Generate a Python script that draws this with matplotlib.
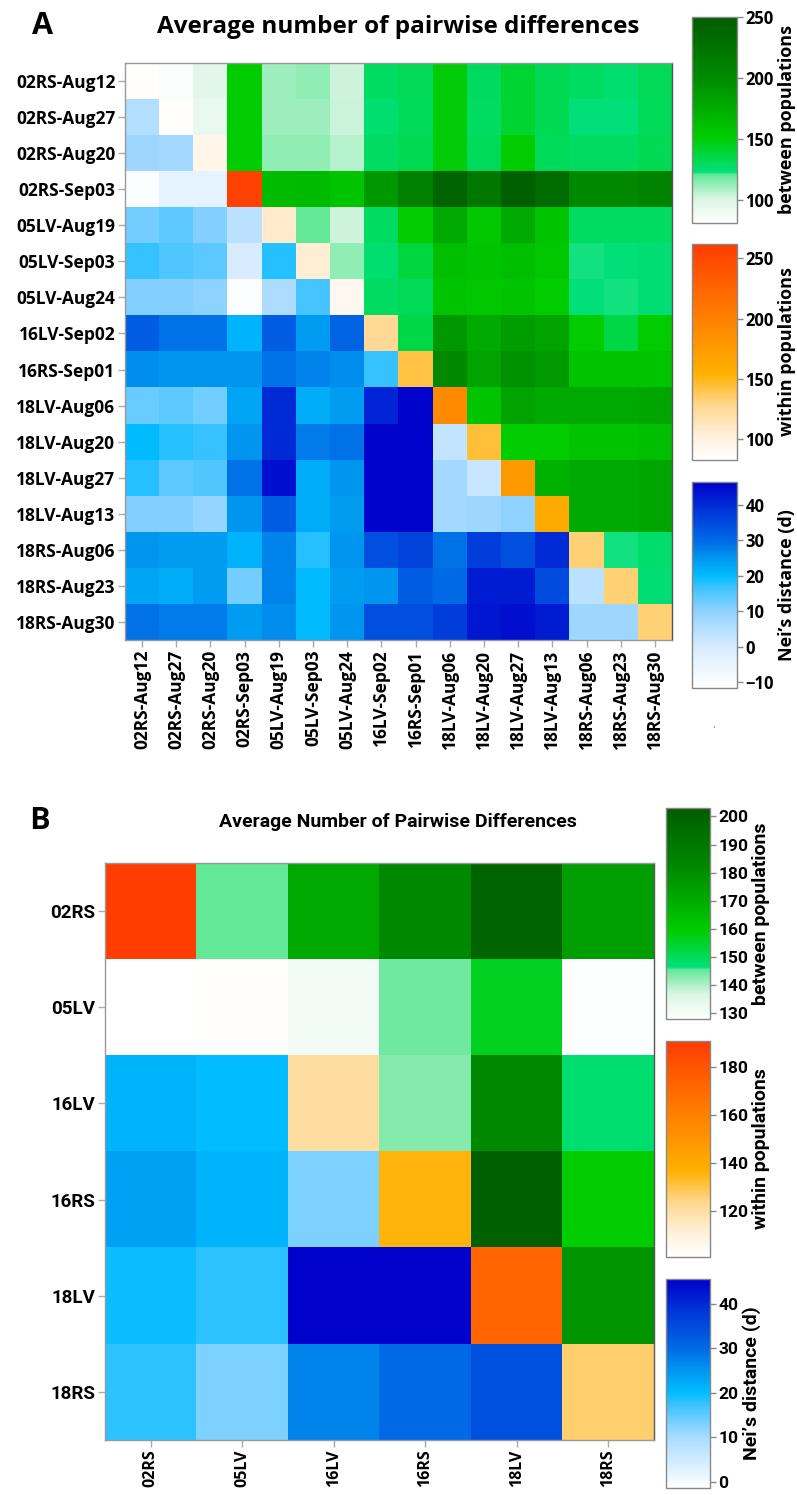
# two heatmaps of pairwise differences / Nei's distance, three colour scales each
import numpy as np
import matplotlib
matplotlib.use("Agg")
import matplotlib.pyplot as plt
from matplotlib.colors import LinearSegmentedColormap, Normalize

W, H = 797, 1495

# ---------------- panel A data ----------------
pops_a = ['02RS-Aug12', '02RS-Aug27', '02RS-Aug20', '02RS-Sep03', '05LV-Aug19',
          '05LV-Sep03', '05LV-Aug24', '16LV-Sep02', '16RS-Sep01', '18LV-Aug06',
          '18LV-Aug20', '18LV-Aug27', '18LV-Aug13', '18RS-Aug06', '18RS-Aug23',
          '18RS-Aug30']
# upper triangle: row i, columns i+1..15
between_a = [
    [84, 96, 152, 111, 113, 103, 128, 131, 150, 129, 140, 132, 128, 125, 131],
    [92, 151, 111, 111, 104, 125, 130, 150, 128, 140, 132, 123, 123, 130],
    [151, 113, 113, 107, 128, 132, 150, 130, 152, 130, 128, 128, 132],
    [164, 165, 158, 190, 212, 240, 220, 246, 233, 203, 203, 208],
    [120, 103, 128, 152, 177, 155, 177, 158, 128, 128, 128],
    [113, 125, 137, 162, 158, 162, 155, 122, 123, 124],
    [128, 131, 158, 155, 158, 152, 123, 122, 124],
    [135, 190, 177, 186, 182, 152, 135, 152],
    [203, 182, 195, 188, 158, 158, 158],
    [158, 182, 177, 178, 178, 180],
    [152, 152, 158, 158, 162],
    [172, 177, 177, 180],
    [177, 177, 180],
    [122, 126],
    [124],
]
within_a = [84, 84, 96, 257, 108, 105, 92, 126, 142, 190, 144, 176, 160, 133, 133, 133]
# lower triangle: row i, columns 0..i-1
nei_a = [
    [5],
    [8, 7],
    [-11, -4, -4],
    [12, 14, 11, 4],
    [17, 15, 14, 0, 18],
    [11, 11, 10, -11, 6, 16],
    [32, 29, 29, 21, 32, 24, 31],
    [26, 25, 25, 25, 29, 27, 26, 17],
    [13, 14, 12, 23, 40, 22, 24, 41, 46],
    [20, 18, 17, 25, 40, 28, 29, 46, 46, 3],
    [18, 14, 15, 29, 44, 22, 25, 46, 46, 7, 2],
    [11, 11, 9, 25, 32, 22, 24, 46, 46, 7, 8, 10],
    [25, 24, 24, 21, 27, 18, 25, 34, 36, 29, 37, 34, 40],
    [23, 22, 24, 12, 27, 20, 24, 25, 32, 30, 42, 42, 35, 4],
    [29, 28, 28, 24, 26, 20, 25, 34, 34, 37, 43, 44, 42, 8, 8],
]

# ---------------- panel B data ----------------
pops_b = ['02RS', '05LV', '16LV', '16RS', '18LV', '18RS']
between_b = [
    [145.5, 171, 182, 199, 174.5],
    [131, 144.5, 156, 128.5],
    [143, 182, 147.5],
    [201, 159.5],
    [177.5],
]
within_b = [190, 101.5, 121, 136, 173, 127]
nei_b = [
    [-1.4],
    [21, 20],
    [23.5, 21, 13],
    [19.5, 18, 45, 45],
    [18, 13, 27, 30, 34],
]

green_stops = [(0, '#ffffff'), (0.12, '#d8f5e2'), (0.235, '#60e896'), (0.245, '#00e07a'),
               (0.42, '#00cc00'), (0.7, '#008c00'), (1.0, '#005c00')]
orange_stops = [(0, '#ffffff'), (0.1, '#fff2e0'), (0.25, '#ffd890'), (0.4, '#ffb000'),
                (0.7, '#ff7800'), (1.0, '#ff3c00')]
blue_a = [(-11.7, '#ffffff'), (0, '#d8ecff'), (10, '#8ed2ff'), (17, '#38c2ff'), (20, '#00bcff'),
          (25, '#0096f0'), (30, '#006ae6'), (38, '#0038da'), (46.5, '#0000cc')]
blue_b = [(-1.4, '#ffffff'), (10, '#a8dcff'), (17, '#40c4ff'), (20, '#00bcff'),
          (25, '#0096f0'), (30, '#006ae6'), (38, '#0038da'), (45.5, '#0000cc')]

WIDE = ['Open Sans', 'DejaVu Sans']
NARROW = ['Roboto', 'DejaVu Sans']


def build(n, between, within, nei):
    up = np.full((n, n), np.nan)
    dg = np.full((n, n), np.nan)
    lo = np.full((n, n), np.nan)
    for i, row in enumerate(between):
        up[i, i + 1:] = row
    for i, v in enumerate(within):
        dg[i, i] = v
    for i, row in enumerate(nei):
        lo[i + 1, :i + 1] = row
    return [np.ma.masked_invalid(m) for m in (up, dg, lo)]


def rel_cmap(stops, name):
    return LinearSegmentedColormap.from_list(name, stops)


def abs_cmap(stops, name):
    lo, hi = stops[0][0], stops[-1][0]
    return LinearSegmentedColormap.from_list(name, [((v - lo) / (hi - lo), c) for v, c in stops])


def px_axes(fig, x0, y0, x1, y1):
    return fig.add_axes([x0 / W, 1 - y1 / H, (x1 - x0) / W, (y1 - y0) / H])


def panel(fig, box, pops, mats, scales, cbar_boxes, ticks, labels,
          yfont, yfs, xfont, xfs, cfont, cfs, lfs):
    ax = px_axes(fig, *box)
    ims = []
    for m, (cmap, vmin, vmax) in zip(mats, scales):
        ims.append(ax.imshow(m, cmap=cmap, norm=Normalize(vmin, vmax),
                             aspect='auto', interpolation='nearest'))
    n = len(pops)
    ax.set_xticks(range(n))
    ax.set_yticks(range(n))
    ax.set_xticklabels(pops, rotation=90, family=xfont, fontsize=xfs, fontweight='bold')
    ax.set_yticklabels(pops, family=yfont, fontsize=yfs, fontweight='bold')
    ax.tick_params(length=5, color='#aaaaaa', width=1, pad=2)
    for s in ax.spines.values():
        s.set_color('#999999')
        s.set_linewidth(1)
    ax.spines['right'].set_color('#555555')
    for im, cb_box, tk, lab in zip(ims, cbar_boxes, ticks, labels):
        cax = px_axes(fig, *cb_box)
        cb = fig.colorbar(im, cax=cax)
        cb.set_ticks(tk)
        cb.outline.set_edgecolor('#888888')
        cb.outline.set_linewidth(1)
        cax.tick_params(length=4, color='#888888', width=1, pad=2)
        for t in cax.get_yticklabels():
            t.set_fontweight('bold')
            t.set_fontsize(cfs)
            t.set_family(cfont)
        cb.set_label(lab, fontsize=lfs, fontweight='bold', family=cfont, labelpad=3)
    return ax


fig = plt.figure(figsize=(W / 100, H / 100), dpi=100)

labels = ['between populations', 'within populations', 'Nei\u2019s distance (d)']

# panel A
mats_a = build(len(pops_a), between_a, within_a, nei_a)
scales_a = [(rel_cmap(green_stops, 'ga'), 81, 250),
            (rel_cmap(orange_stops, 'oa'), 83, 262),
            (abs_cmap(blue_a, 'ba'), blue_a[0][0], blue_a[-1][0])]
panel(fig, (125, 63, 672, 640), pops_a, mats_a, scales_a,
      [(692, 17, 737, 223), (692, 244, 737, 460), (692, 482, 737, 688)],
      [[100, 150, 200, 250], [100, 150, 200, 250], [-10, 0, 10, 20, 30, 40]],
      labels, WIDE, 12.5, WIDE, 12.5, WIDE, 12, 13)
fig.text(42 / W, 1 - 26 / H, 'A', fontsize=22, fontweight='bold', family=WIDE,
         ha='center', va='center')
fig.text(398 / W, 1 - 27 / H, 'Average number of pairwise differences', fontsize=17.5,
         fontweight='bold', family=WIDE, ha='center', va='center')
# tiny stray mark under the Nei's distance scale
fig.text(713 / W, 1 - 725 / H, '\u02cc', fontsize=6, color='#2a2a66',
         ha='center', va='center')

# panel B
mats_b = build(len(pops_b), between_b, within_b, nei_b)
scales_b = [(rel_cmap(green_stops, 'gb'), 128, 203),
            (rel_cmap(orange_stops, 'ob'), 101, 191),
            (abs_cmap(blue_b, 'bb'), blue_b[0][0], blue_b[-1][0])]
panel(fig, (105, 863, 654, 1440), pops_b, mats_b, scales_b,
      [(666, 808, 710, 1019), (666, 1041, 710, 1257), (666, 1279, 710, 1488)],
      [list(range(130, 201, 10)), [120, 140, 160, 180], [0, 10, 20, 30, 40]],
      labels, NARROW, 13.5, WIDE, 11.5, NARROW, 12.5, 14)
fig.text(40 / W, 1 - 820 / H, 'B', fontsize=22, fontweight='bold', family=NARROW,
         ha='center', va='center')
fig.text(398 / W, 1 - 822 / H, 'Average Number of Pairwise Differences', fontsize=14,
         fontweight='bold', family=NARROW, ha='center', va='center')

plt.savefig('out.png', dpi=100)
